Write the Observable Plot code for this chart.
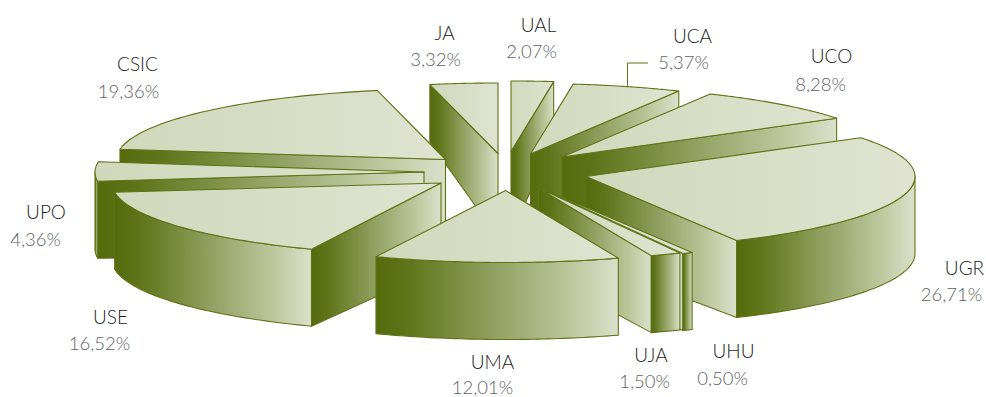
<!DOCTYPE html>
<html><head><meta charset="utf-8">
<style>html,body{margin:0;padding:0;background:#fff}svg{display:block}</style>
<script src="https://cdn.jsdelivr.net/npm/d3@7"></script>
<script src="https://cdn.jsdelivr.net/npm/@observablehq/plot@0.6"></script>
</head><body><div id="chart"></div>
<script>
// Data, clockwise from 12 o'clock
const names  = ["UAL","UCA","UCO","UGR","UHU","UJA","UMA","USE","UPO","CSIC","JA"];
const shares = [2.07,5.37,8.28,26.71,0.50,1.50,12.01,16.52,4.36,19.36,3.32];
const shareLabels = ["2,07%","5,37%","8,28%","26,71%","0,50%","1,50%","12,01%","16,52%","4,36%","19,36%","3,32%"];

// Layout: exploded tip of each slice, label anchors, drawing order, projection
const tips = {UAL:[510.5,151],UCA:[530,153.5],UCO:[561.5,156.5],UGR:[585.5,176],UHU:[541,188],UJA:[538,187.5],UMA:[505,190],USE:[440.5,182.5],UPO:[423.5,171.5],CSIC:[445,159],JA:[497.5,153]};
const nameAt = {UAL:[538,25],UCA:[692,36],UCO:[831,56],UGR:[964,268],UHU:[733,351],UJA:[650.5,355],UMA:[492,362],USE:[110,317],UPO:[45.5,212],CSIC:[137,64],JA:[444,33]};
const shareAt = {UAL:[531,52],UCA:[683,63],UCO:[820,85],UGR:[951,295],UHU:[722,379],UJA:[644,382],UMA:[482,388],USE:[99,344],UPO:[35,240],CSIC:[128,92],JA:[435,60]};
const drawOrder = ["UAL","JA","UCA","UCO","CSIC","UPO","USE","UGR","UHU","UJA","UMA"];
const leader = [[627,85],[627,62.5],[647,62.5]];
const rx = 329, ryBack = 70.5, ryFront = 72, wallFront = 77, wallBack = 57, wallTip = 84;
const line = "#5f7316";

const rad = d => d * Math.PI / 180;
const rim = (tip, a) => {
  const c = Math.cos(rad(a));
  return [tip[0] + rx * Math.sin(rad(a)), tip[1] - (c > 0 ? ryBack : ryFront) * c];
};
const wallAt = a => wallFront - (wallFront - wallBack) * Math.max(Math.cos(rad(a)), 0);
const arc = (tip, a0, a1) => d3.range(0, 49).map(i => rim(tip, a0 + (a1 - a0) * i / 48));
const down = (p, d) => [p[0], p[1] + d];

let cum = 0;
const slices = new Map(names.map((n, i) => {
  const a0 = cum * 3.6; cum += shares[i];
  return [n, {name: n, a0, a1: cum * 3.6, tip: tips[n]}];
}));

const faces = [];
for (const n of drawOrder) {
  const {a0, a1, tip} = slices.get(n);
  const sideFace = a => {
    const r = rim(tip, a);
    faces.push({pts: [tip, r, down(r, wallAt(a)), down(tip, wallTip)], paint: "wall"});
  };
  if (a0 >= 180) sideFace(a0);
  if (a1 <= 180) sideFace(a1);
  const f0 = Math.max(a0, 90), f1 = Math.min(a1, 270);
  if (f1 > f0) {
    const top = arc(tip, f0, f1);
    faces.push({pts: [...top, ...top.slice().reverse().map(p => down(p, wallFront))], paint: "wall"});
  }
  faces.push({pts: [tip, ...arc(tip, a0, a1)], paint: "top"});
}

const defs = () => {
  const d = d3.create("svg:defs");
  const grad = (id, stops) => {
    const g = d.append("linearGradient").attr("id", id).attr("x1", 0).attr("x2", 1).attr("y1", 0).attr("y2", 0);
    stops.forEach(([o, c]) => g.append("stop").attr("offset", o).attr("stop-color", c));
  };
  grad("wall", [[0, "#566b0c"], [0.12, "#5f7418"], [0.5, "#93a263"], [0.8, "#bcc69c"], [1, "#dbe0ca"]]);
  grad("top", [[0, "#d1d8bb"], [1, "#dfe3d0"]]);
  return d.node();
};

const textOf = (at, labels, opts) => Plot.text(names, {
  x: n => at[n][0], y: n => at[n][1],
  text: (n) => labels[names.indexOf(n)],
  textAnchor: "middle", lineAnchor: "middle", ...opts
});

const chart = Plot.plot({
  width: 986, height: 397, margin: 0,
  style: {background: "#fff", fontFamily: "Lato, sans-serif"},
  x: {domain: [0, 986], range: [0, 986], axis: null},
  y: {domain: [0, 397], range: [0, 397], axis: null},
  marks: [
    defs,
    ...faces.map(f => Plot.line(f.pts, {
      x: d => d[0], y: d => d[1], curve: "linear-closed",
      fill: `url(#${f.paint})`, stroke: line, strokeWidth: 1.1, strokeLinejoin: "round"
    })),
    Plot.line(leader, {x: d => d[0], y: d => d[1], stroke: line, strokeWidth: 1}),
    textOf(nameAt, names, {fontSize: 19, fill: "#1c1c20", fontWeight: 300}),
    textOf(shareAt, shareLabels, {fontSize: 18.5, fill: "#626266", fontWeight: 300})
  ]
});
document.getElementById("chart").append(chart);
</script></body></html>
